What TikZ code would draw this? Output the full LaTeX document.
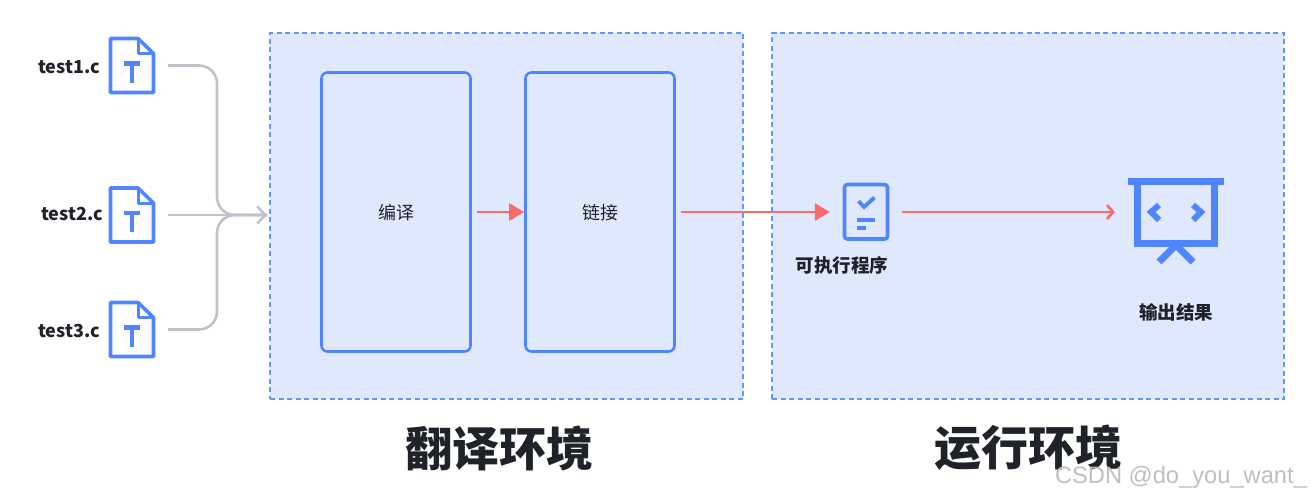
\documentclass[tikz,border=0pt]{standalone}
\usepackage{fontspec}
\setmainfont{Noto Sans CJK SC}
\newfontfamily\markfont{Liberation Sans}
\usetikzlibrary{arrows.meta,positioning}
\definecolor{envblue}{RGB}{224,232,253}
\definecolor{lineblue}{RGB}{79,134,255}
\definecolor{dashblue}{RGB}{100,148,255}
\definecolor{flowred}{RGB}{250,107,107}
\definecolor{flowgray}{RGB}{191,195,201}
\definecolor{inkdark}{RGB}{31,35,41}
\tikzset{
  envbox/.style={draw=dashblue, fill=envblue, dashed, dash pattern=on 5pt off 3.5pt, line width=1.3pt, minimum height=366pt},
  stagebox/.style={draw=lineblue, line width=2.6pt, rounded corners=6pt, minimum width=149pt, minimum height=279pt},
  stagetext/.style={text=inkdark, inner sep=0pt, font=\fontsize{18}{20}\selectfont},
  iconbox/.style={inner sep=0pt, minimum width=46pt, minimum height=57pt},
  filelabel/.style={text=inkdark, inner sep=0pt, font=\fontsize{18}{20}\selectfont\bfseries},
  iconlabel/.style={text=inkdark, inner sep=0pt, font=\fontsize{18.5}{20}\selectfont\bfseries},
  envtitle/.style={text=inkdark, inner sep=0pt, font=\fontsize{47}{50}\selectfont\bfseries},
  grayflow/.style={draw=flowgray, line width=2.6pt, rounded corners=18pt},
  redflow/.style={draw=flowred, line width=2.7pt},
  pics/fileicon/.style={code={
    \draw[lineblue, line width=3.6pt, line join=round] (-21.5,-27) -- (6,-27) -- (21.5,-12) -- (21.5,27) -- (-21.5,27) -- cycle;
    \draw[lineblue, line width=3pt, line join=round] (6,-27) -- (6,-12) -- (21.5,-12);
    \draw[lineblue, line width=4.4pt] (-8,-2) -- (8,-2) (0,-2) -- (0,17);
  }},
  pics/programicon/.style={code={
    \draw[lineblue, line width=3.6pt, rounded corners=3pt] (-21.5,-27.5) rectangle (21.5,27);
    \draw[lineblue, line width=3.8pt] (-7.5,-11) -- (-2,-5) -- (8.5,-14.5);
    \draw[lineblue, line width=4pt] (-9,8) -- (9,8) (-9,16) -- (0,16);
  }},
  pics/screenicon/.style={code={
    \fill[lineblue] (-48,-34) rectangle (48,-27);
    \draw[lineblue, line width=7pt] (-38.5,-30) -- (-38.5,31.5) -- (38.5,31.5) -- (38.5,-30);
    \draw[lineblue, line width=6pt] (-17,-7) -- (-25,0) -- (-17,8);
    \draw[lineblue, line width=6pt] (17,-7) -- (25,0) -- (17,8);
    \draw[lineblue, line width=7pt] (-17,50) -- (0,33) -- (17,50);
  }},
}
\begin{document}
\begin{tikzpicture}[x=1pt,y=-1pt]
  \useasboundingbox (0,0) rectangle (1311,499);
  % Two environments
  \node[envbox, minimum width=473pt] (transenv) at (506.5,216) {};
  \node[envbox, minimum width=512pt] (runenv) at (1028,216) {};
  \node[stagebox] (compile) at (396,212) {};
  \node[stagebox] (link) at (600,212) {};
  \node[stagetext] at ([yshift=-1pt]compile.center) {编译};
  \node[stagetext] at ([yshift=-1pt]link.center) {链接};
  % Source files
  \node[iconbox] (filea) at (132,65.5) {};
  \node[iconbox] (fileb) at (132,215) {};
  \node[iconbox] (filec) at (132,329.5) {};
  \pic at (filea) {fileicon};
  \pic at (fileb) {fileicon};
  \pic at (filec) {fileicon};
  \node[filelabel] at (69,67) {test1.c};
  \node[filelabel] at (72,214) {test2.c};
  \node[filelabel] at (69,331) {test3.c};
  % Run side icons
  \node[iconbox] (program) at (866,212) {};
  \node[iconbox, minimum width=96pt] (screen) at (1176,212) {};
  \pic at (program) {programicon};
  \pic at (screen) {screenicon};
  \node[iconlabel] at (842,265) {可执行程序};
  \node[iconlabel] at (1176,312) {输出结果};
  % Gray merge
  \coordinate (merge) at (267,215);
  \coordinate (bend) at (217,215);
  \draw[grayflow] ([xshift=13pt]filea.east |- filea.center) -| (bend) -- (merge);
  \draw[grayflow] ([xshift=13pt]filec.east |- filec.center) -| (bend) -- (merge);
  \draw[grayflow, -{Straight Barb[length=8pt,width=17pt]}] ([xshift=13pt]fileb.east) -- (merge);
  % Red flow
  \draw[redflow, -{Triangle[length=15pt,width=17pt]}, shorten <=5pt] (compile.east) -- (link.west);
  \draw[redflow, -{Triangle[length=15pt,width=17pt]}, shorten <=5pt, shorten >=13pt] (link.east) -- (program.west);
  \draw[redflow, -{Straight Barb[length=6pt,width=14pt]}, shorten <=13pt, shorten >=13pt] (program.east) -- (screen.west);
  % Titles
  \node[envtitle] at (499,448) {翻译环境};
  \node[envtitle] at (1028,448) {运行环境};
  \node[text=black!25, inner sep=0pt, font=\markfont\fontsize{23.7}{26}\selectfont] at (1181,477) {CSDN @do\_you\_want\_};
\end{tikzpicture}
\end{document}
